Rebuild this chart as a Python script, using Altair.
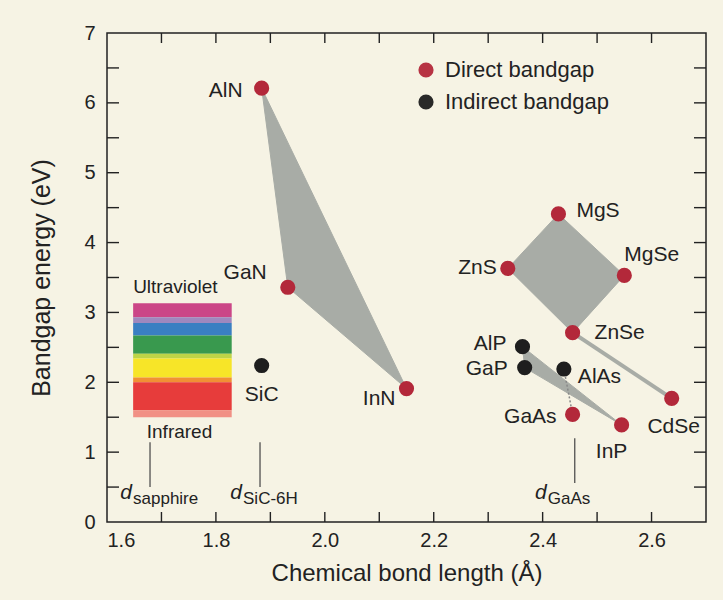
import altair as alt
import pandas as pd

# ---------------- data ----------------
compounds = ["AlN", "GaN", "InN", "SiC", "MgS", "MgSe", "ZnS", "ZnSe",
             "AlP", "GaP", "AlAs", "GaAs", "InP", "CdSe"]
bond_length = [1.884, 1.932, 2.150, 1.884, 2.429, 2.550, 2.336, 2.455,
               2.363, 2.367, 2.439, 2.455, 2.545, 2.637]
bandgap = [6.21, 3.36, 1.91, 2.24, 4.41, 3.53, 3.63, 2.71,
           2.51, 2.21, 2.19, 1.54, 1.39, 1.77]
gap_type = ["Direct bandgap", "Direct bandgap", "Direct bandgap", "Indirect bandgap",
            "Direct bandgap", "Direct bandgap", "Direct bandgap", "Direct bandgap",
            "Indirect bandgap", "Indirect bandgap", "Indirect bandgap", "Direct bandgap",
            "Direct bandgap", "Direct bandgap"]

# alloy regions (vertices are compounds)
polygons = {
    "nitrides": ["AlN", "GaN", "InN"],
    "II-VI": ["MgS", "MgSe", "ZnSe", "ZnS"],
    "III-V": ["AlP", "InP", "GaP"],
}
band_line = ["ZnSe", "CdSe"]
dotted_line = ["AlAs", "GaAs"]

# visible spectrum swatch
spectrum_x = [1.648, 1.829]
spectrum_top = [3.13, 2.93, 2.85, 2.67, 2.41, 2.34, 2.07, 2.00, 1.60]
spectrum_bottom = [2.93, 2.85, 2.67, 2.41, 2.34, 2.07, 2.00, 1.60, 1.50]
spectrum_colors = ["#c83c82", "#9a82bc", "#2f78c0", "#2e9446", "#b9d23e",
                   "#f7e41e", "#f08a2a", "#e63232", "#f08a80"]

# substrate reference lines
ref_names = ["sapphire", "SiC-6H", "GaAs"]
ref_x = [1.679, 1.881, 2.459]
ref_y1 = [0.50, 0.50, 0.56]
ref_y2 = [1.14, 1.14, 1.20]
ref_text_y = [0.42, 0.42, 0.42]

spectrum_labels = ["Ultraviolet", "Infrared"]
spectrum_label_x = [1.648, 1.673]
spectrum_label_y = [3.36, 1.29]

x_ticks_major = [1.6, 1.8, 2.0, 2.2, 2.4, 2.6]
x_ticks_minor = [1.7, 1.8, 1.9, 2.0, 2.1, 2.2, 2.3, 2.4, 2.5, 2.6]
y_ticks_major = [0, 1, 2, 3, 4, 5, 6, 7]
y_ticks_minor = [0.5, 1, 1.5, 2, 2.5, 3, 3.5, 4, 4.5, 5, 5.5, 6, 6.5]

# ---------------- styles ----------------
W, H = 599, 489
FONT = "Liberation Sans"
RED = "#b3283a"
BLACK = "#1e1e1e"
GRAY = "#a8aca6"
BG = "#f6f3e4"

label_style = {  # dx, dy, align
    "AlN": (-19, 3, "right"), "GaN": (-21, -14, "right"), "SiC": (0, 29, "center"),
    "InN": (-11, 10, "right"), "MgS": (18, -3, "left"), "MgSe": (0, -20, "left"),
    "ZnS": (-11, 0, "right"), "ZnSe": (22, 0, "left"), "AlP": (-16, -3, "right"),
    "GaP": (-17, 1, "right"), "AlAs": (14, 8, "left"), "GaAs": (-16, 3, "right"),
    "InP": (-10, 27, "center"), "CdSe": (2, 29, "center"),
}
ref_dx = {"sapphire": (-18, -17), "SiC-6H": (-18, -17), "GaAs": (-28, -27)}

# ---------------- frames ----------------
pts = pd.DataFrame({"name": compounds, "x": bond_length, "y": bandgap, "type": gap_type})
lookup = {n: (x, y) for n, x, y in zip(compounds, bond_length, bandgap)}

poly_rows = []
for g, verts in polygons.items():
    for i, v in enumerate(verts + [verts[0]]):
        poly_rows.append({"g": g, "o": i, "x": lookup[v][0], "y": lookup[v][1]})
poly_df = pd.DataFrame(poly_rows)

band_df = pd.DataFrame([{"o": i, "x": lookup[v][0], "y": lookup[v][1]} for i, v in enumerate(band_line)])
dot_df = pd.DataFrame([{"o": i, "x": lookup[v][0], "y": lookup[v][1]} for i, v in enumerate(dotted_line)])

spec_df = pd.DataFrame({"x": spectrum_x[0], "x2": spectrum_x[1], "top": spectrum_top,
                        "bottom": spectrum_bottom, "c": spectrum_colors})
ref_df = pd.DataFrame({"name": ref_names, "x": ref_x, "y1": ref_y1, "y2": ref_y2, "ty": ref_text_y})

xs = alt.Scale(domain=[1.6, 2.7], nice=False, zero=False)
ys = alt.Scale(domain=[0, 7], nice=False, zero=False)

X = alt.X("x:Q", scale=xs, title="Chemical bond length (Å)",
          axis=alt.Axis(values=x_ticks_major, format=".1f", grid=False, ticks=False, domain=False,
                        labelFont=FONT, labelFontSize=20, labelColor="#222", labelPadding=8,
                        titleFont=FONT, titleFontSize=24, titleFontWeight="normal", titleColor="#222",
                        titlePadding=11))
Y = alt.Y("y:Q", scale=ys, title="Bandgap energy (eV)",
          axis=alt.Axis(values=y_ticks_major, format="d", grid=False, ticks=False, domain=False,
                        labelFont=FONT, labelFontSize=20, labelColor="#222", labelPadding=12,
                        titleFont=FONT, titleFontSize=25, titleFontWeight="normal", titleColor="#222",
                        titlePadding=29))

layers = []

# alloy polygons
layers.append(alt.Chart(poly_df).mark_line(fill=GRAY, stroke=GRAY, strokeWidth=1, interpolate="linear").encode(
    x=X, y=Y, detail="g:N", order="o:Q"))
layers.append(alt.Chart(band_df).mark_line(color=GRAY, strokeWidth=4).encode(
    x=alt.X("x:Q", scale=xs), y=alt.Y("y:Q", scale=ys), order="o:Q"))
layers.append(alt.Chart(dot_df).mark_line(color="#888", strokeWidth=1.5, strokeDash=[2, 2]).encode(
    x=alt.X("x:Q", scale=xs), y=alt.Y("y:Q", scale=ys), order="o:Q"))

# spectrum swatch
layers.append(alt.Chart(spec_df).mark_rect(opacity=0.95).encode(
    x=alt.X("x:Q", scale=xs), x2="x2:Q",
    y=alt.Y("top:Q", scale=ys), y2="bottom:Q",
    color=alt.Color("c:N", scale=None)))

# reference lines
layers.append(alt.Chart(ref_df).mark_rule(color="#444", strokeWidth=1.2).encode(
    x=alt.X("x:Q", scale=xs), y=alt.Y("y1:Q", scale=ys), y2="y2:Q"))
for n in ref_names:
    sub = ref_df[ref_df["name"] == n]
    ddx, sdx = ref_dx[n]
    layers.append(alt.Chart(sub).mark_text(text="d", font=FONT, fontStyle="italic", fontSize=21,
                                           align="right", baseline="middle", dx=ddx, color="#222").encode(
        x=alt.X("x:Q", scale=xs), y=alt.Y("ty:Q", scale=ys)))
    layers.append(alt.Chart(sub).mark_text(font=FONT, fontSize=17, align="left", baseline="middle",
                                           dx=sdx, dy=6, color="#222").encode(
        x=alt.X("x:Q", scale=xs), y=alt.Y("ty:Q", scale=ys), text="name:N"))

# spectrum labels
sl_df = pd.DataFrame({"t": spectrum_labels, "x": spectrum_label_x, "y": spectrum_label_y})
layers.append(alt.Chart(sl_df).mark_text(font=FONT, fontSize=19, align="left", baseline="middle",
                                         color="#222").encode(
    x=alt.X("x:Q", scale=xs), y=alt.Y("y:Q", scale=ys), text="t:N"))

# inward ticks
xt = pd.DataFrame({"x": x_ticks_minor})
yt = pd.DataFrame({"y": y_ticks_minor})
tick_style = dict(color="#222", strokeWidth=1.4)
layers.append(alt.Chart(xt).mark_rule(**tick_style).encode(
    x=alt.X("x:Q", scale=xs), y=alt.value(H), y2=alt.value(H - 10)))
layers.append(alt.Chart(xt).mark_rule(**tick_style).encode(
    x=alt.X("x:Q", scale=xs), y=alt.value(0), y2=alt.value(10)))
layers.append(alt.Chart(yt).mark_rule(**tick_style).encode(
    y=alt.Y("y:Q", scale=ys), x=alt.value(0), x2=alt.value(12)))
layers.append(alt.Chart(yt).mark_rule(**tick_style).encode(
    y=alt.Y("y:Q", scale=ys), x=alt.value(W), x2=alt.value(W - 12)))

# points with legend
layers.append(alt.Chart(pts).mark_circle(size=230, opacity=1).encode(
    x=alt.X("x:Q", scale=xs), y=alt.Y("y:Q", scale=ys),
    color=alt.Color("type:N",
                    scale=alt.Scale(domain=["Direct bandgap", "Indirect bandgap"], range=[RED, BLACK]),
                    legend=alt.Legend(orient="none", legendX=308, legendY=26, title=None,
                                      symbolType="circle", symbolSize=230, symbolStrokeWidth=0,
                                      symbolOpacity=1, labelFont=FONT, labelFontSize=22,
                                      labelLimit=400, labelColor="#222", labelOffset=8,
                                      rowPadding=10, padding=0))))

# point labels
for n in compounds:
    dx, dy, al = label_style[n]
    layers.append(alt.Chart(pts[pts["name"] == n]).mark_text(
        font=FONT, fontSize=21, align=al, baseline="middle", dx=dx, dy=dy, color="#222").encode(
        x=alt.X("x:Q", scale=xs), y=alt.Y("y:Q", scale=ys), text="name:N"))

chart = alt.layer(*layers).properties(
    width=W, height=H,
    autosize=alt.AutoSizeParams(type="none"),
    padding={"left": 107, "top": 33, "right": 17, "bottom": 78},
).configure(background=BG).configure_view(stroke="#222", strokeWidth=1.5)

chart.save("out.html", embed_options={"renderer": "svg", "actions": False})
